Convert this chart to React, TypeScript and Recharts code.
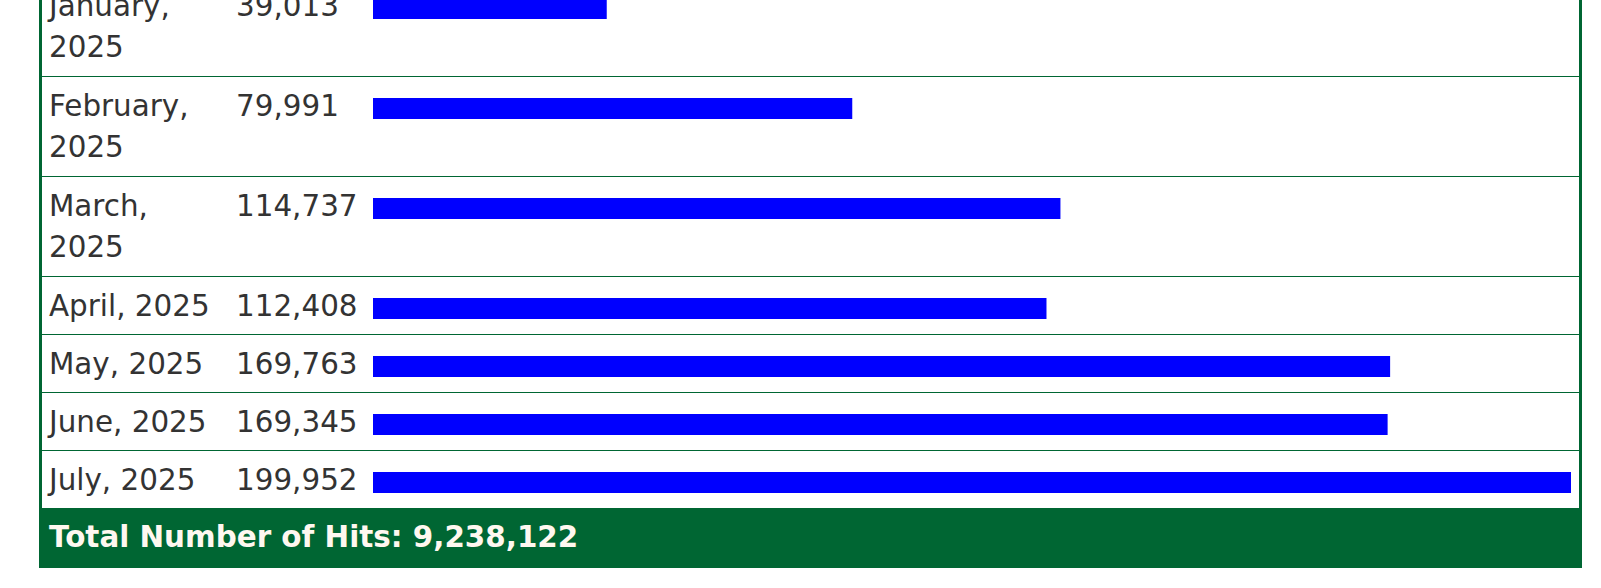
// Monthly hits table: one row per month, label + count + a horizontal bar.
// Each bar is its own tiny vertical-layout BarChart sharing one x-domain,
// so bar lengths line up across rows like the original table.

import { BarChart, Bar, XAxis, YAxis } from 'recharts';

// ---------------------------------------------------------------------------
// Data
// ---------------------------------------------------------------------------

const months = [
  'January, 2025',
  'February, 2025',
  'March, 2025',
  'April, 2025',
  'May, 2025',
  'June, 2025',
  'July, 2025',
];

const hits = [39013, 79991, 114737, 112408, 169763, 169345, 199952];

const totalHits = 9238122;

// ---------------------------------------------------------------------------
// Layout / style
// ---------------------------------------------------------------------------

const GREEN = '#006633';
const TEXT = '#333333';
const BAR_BLUE = '#0000ff';
const FONT = '"DejaVu Sans", sans-serif';
const FONT_SIZE = 29.4;
const LINE_H = 40.5;

const TABLE_LEFT = 39;
const TABLE_WIDTH = 1543; // 39 .. 1582
const BORDER = 3;
const BAR_LEFT = 331;     // relative to the inner table edge
const BAR_WIDTH = 1198;
const BAR_TOP = 21;
const BAR_H = 21;

// rows whose label wraps onto two lines are taller
const ROW_HEIGHTS = [99, 99, 99, 57, 57, 57, 57];

const maxHits = Math.max(...hits);
const fmt = new Intl.NumberFormat('en-US');

function RowBar({ label, value, height }: { label: string; value: number; height: number }) {
  // plot area is exactly one bar tall; the single band is filled by the bar
  return (
    <BarChart
      width={BAR_WIDTH}
      height={height}
      data={[{ label, value }]}
      layout="vertical"
      margin={{ top: BAR_TOP, right: 0, bottom: height - BAR_TOP - BAR_H, left: 0 }}
      barCategoryGap={0}
      barGap={0}
    >
      <XAxis type="number" domain={[0, maxHits]} hide />
      <YAxis type="category" dataKey="label" hide />
      <Bar dataKey="value" fill={BAR_BLUE} isAnimationActive={false} />
    </BarChart>
  );
}

export default function App() {
  const tableTop = 76 - ROW_HEIGHTS[0];

  return (
    <div
      style={{
        position: 'absolute', left: 0, top: 0, width: 1601, height: 588,
        overflow: 'hidden', background: '#ffffff',
        fontFamily: FONT, fontSize: FONT_SIZE, lineHeight: `${LINE_H}px`, color: TEXT,
      }}
    >
      <div style={{ position: 'absolute', left: TABLE_LEFT, top: tableTop, width: TABLE_WIDTH }}>
        <div style={{ borderLeft: `${BORDER}px solid ${GREEN}`, borderRight: `${BORDER}px solid ${GREEN}` }}>
          {months.map((m, i) => {
            const last = i === months.length - 1;
            return (
              <div
                key={m}
                style={{
                  position: 'relative',
                  height: ROW_HEIGHTS[i],
                  borderBottom: last ? 'none' : `1px solid ${GREEN}`,
                }}
              >
                <div style={{ position: 'absolute', left: 7, top: 9, width: 176 }}>{m}</div>
                <div style={{ position: 'absolute', left: 194, top: 9, whiteSpace: 'nowrap' }}>
                  {fmt.format(hits[i])}
                </div>
                <div style={{ position: 'absolute', left: BAR_LEFT, top: 0 }}>
                  <RowBar label={m} value={hits[i]} height={ROW_HEIGHTS[i]} />
                </div>
              </div>
            );
          })}
        </div>

        {/* footer */}
        <div
          style={{
            height: 60, background: GREEN, color: '#fff8f0', fontWeight: 'bold',
            boxSizing: 'border-box', paddingLeft: 10, paddingTop: 8.5, whiteSpace: 'nowrap',
          }}
        >
          Total Number of Hits: {fmt.format(totalHits)}
        </div>
      </div>
    </div>
  );
}
